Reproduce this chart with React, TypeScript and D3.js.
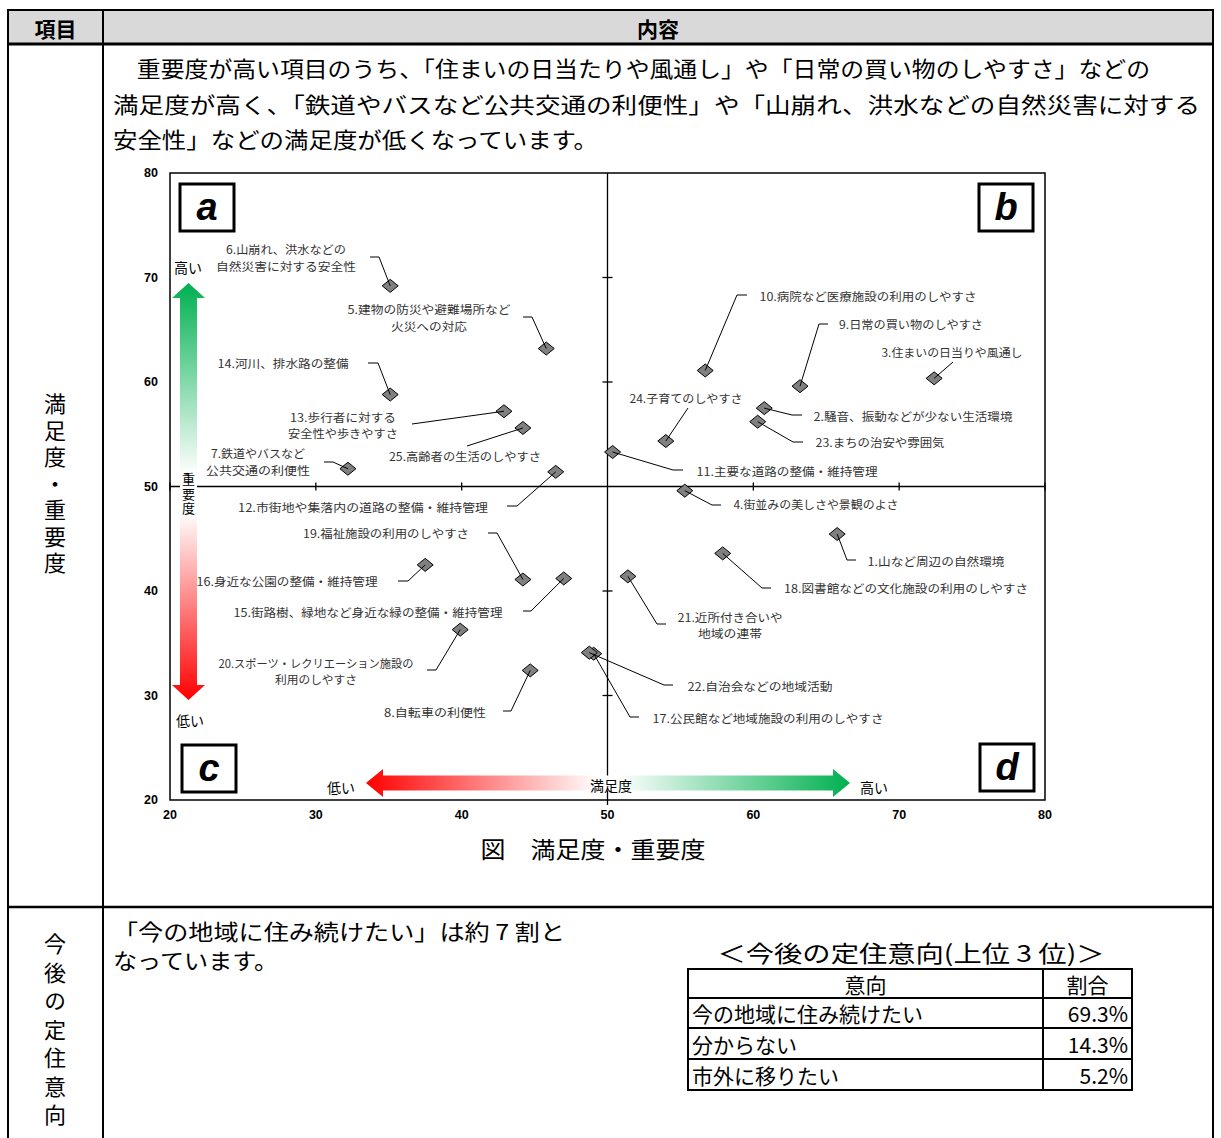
import React, { useEffect, useRef } from 'react';
import * as d3 from 'd3';

// 満足度(x)・重要度(y) の偏差値
const itemNo = [1, 2, 3, 4, 5, 6, 7, 8, 9, 10, 11, 12, 13, 14, 15, 16, 17, 18, 19, 20, 21, 22, 23, 24, 25];
const satisfaction = [65.75, 60.75, 72.4, 55.3, 45.8, 35.1, 32.2, 44.7, 63.2, 56.7, 50.35, 46.45, 42.9, 35.1, 47.0, 37.5, 49.05, 57.9, 44.2, 39.9, 51.4, 48.75, 60.3, 54.0, 44.2];
const importance = [45.45, 57.5, 60.35, 49.6, 63.2, 69.2, 51.7, 32.4, 59.6, 61.1, 53.3, 51.4, 57.2, 58.8, 41.2, 42.5, 34.0, 43.6, 41.1, 36.3, 41.4, 34.1, 56.2, 54.35, 55.6];
const itemLabels = [
  ['1.山など周辺の自然環境'],
  ['2.騒音、振動などが少ない生活環境'],
  ['3.住まいの日当りや風通し'],
  ['4.街並みの美しさや景観のよさ'],
  ['5.建物の防災や避難場所など', '火災への対応'],
  ['6.山崩れ、洪水などの', '自然災害に対する安全性'],
  ['7.鉄道やバスなど', '公共交通の利便性'],
  ['8.自転車の利便性'],
  ['9.日常の買い物のしやすさ'],
  ['10.病院など医療施設の利用のしやすさ'],
  ['11.主要な道路の整備・維持管理'],
  ['12.市街地や集落内の道路の整備・維持管理'],
  ['13.歩行者に対する', '安全性や歩きやすさ'],
  ['14.河川、排水路の整備'],
  ['15.街路樹、緑地など身近な緑の整備・維持管理'],
  ['16.身近な公園の整備・維持管理'],
  ['17.公民館など地域施設の利用のしやすさ'],
  ['18.図書館などの文化施設の利用のしやすさ'],
  ['19.福祉施設の利用のしやすさ'],
  ['20.スポーツ・レクリエーション施設の', '利用のしやすさ'],
  ['21.近所付き合いや', '地域の連帯'],
  ['22.自治会などの地域活動'],
  ['23.まちの治安や雰囲気'],
  ['24.子育てのしやすさ'],
  ['25.高齢者の生活のしやすさ'],
];
const xTicks = [20, 30, 40, 50, 60, 70, 80];
const yTicks = [20, 30, 40, 50, 60, 70, 80];
const quadrants = ['a', 'b', 'c', 'd'];

const intentLabels = ['今の地域に住み続けたい', '分からない', '市外に移りたい'];
const intentShares = [69.3, 14.3, 5.2];

// データラベルの配置 (ページ座標): 中心x, 各行の中心y, 行幅, 引出線の折れ点
const labelLayout = [
  { cx: 936, cy: [561], w: [137], lead: [[856, 560], [847, 560]] },
  { cx: 913, cy: [416], w: [199], lead: [[802, 415], [792, 415]] },
  { cx: 952, cy: [352], w: [141], lead: [[953, 362]] },
  { cx: 816, cy: [504], w: [165], lead: [[721, 505], [712, 505]] },
  { cx: 429, cy: [309, 326], w: [163, 76], lead: [[523, 317], [532, 317]] },
  { cx: 286, cy: [249, 266], w: [120, 140], lead: [[370, 257], [379, 257]] },
  { cx: 258, cy: [453, 470], w: [94, 104], lead: [[324, 462], [333, 462]] },
  { cx: 435, cy: [712], w: [102], lead: [[503, 711], [511, 711]] },
  { cx: 911, cy: [324], w: [144], lead: [[828, 324], [819, 324]] },
  { cx: 868, cy: [296], w: [217], lead: [[747, 295], [737, 295]] },
  { cx: 787, cy: [471], w: [181], lead: [[683, 470], [673, 470]] },
  { cx: 363, cy: [507], w: [250], lead: [[507, 506], [517, 506]] },
  { cx: 343, cy: [417, 433], w: [106, 110], lead: [[412, 424]] },
  { cx: 283, cy: [363], w: [131], lead: [[368, 363], [378, 363]] },
  { cx: 368, cy: [612], w: [269], lead: [[523, 611], [531, 611]] },
  { cx: 287, cy: [581], w: [181], lead: [[398, 581], [408, 581]] },
  { cx: 768, cy: [718], w: [231], lead: [[639, 717], [630, 717]] },
  { cx: 906, cy: [588], w: [244], lead: [[771, 588], [762, 588]] },
  { cx: 386, cy: [533], w: [166], lead: [[488, 533], [497, 533]] },
  { cx: 316, cy: [663, 679], w: [195, 82], lead: [[427, 670], [436, 670]] },
  { cx: 730, cy: [617, 633], w: [105, 64], lead: [[666, 624], [657, 624]] },
  { cx: 760, cy: [686], w: [145], lead: [[673, 685], [664, 685]] },
  { cx: 880, cy: [442], w: [129], lead: [[803, 442], [793, 442]] },
  { cx: 686, cy: [398], w: [113], lead: [[688, 408]] },
  { cx: 465, cy: [456], w: [152], lead: [[467, 446]] },
];

const JP = "'Noto Sans CJK JP', 'Noto Sans', sans-serif";
const NUM = "'Liberation Sans', Arial, sans-serif";
const GREEN = '#00b050';
const RED = '#ff0000';

const App = () => {
  const ref = useRef<SVGSVGElement>(null);

  useEffect(() => {
    drawPage();
  }, []);

  const drawPage = () => {
    const svg = d3.select(ref.current);
    svg.selectAll('*').remove();

    const left = 8, right = 1213, top = 10, colX = 103;
    const headBottom = 44, rowSplit = 907, bottom = 1140;

    // ---- 表の枠 ----
    svg.append('rect')
      .attr('x', left).attr('y', top)
      .attr('width', right - left).attr('height', headBottom - top)
      .attr('fill', '#d9d9d9');

    const hLine = (y: number, sw: number) => svg.append('line')
      .attr('x1', left - 1).attr('x2', right + 1).attr('y1', y).attr('y2', y)
      .attr('stroke', '#000').attr('stroke-width', sw);
    const vLine = (x: number, sw: number) => svg.append('line')
      .attr('x1', x).attr('x2', x).attr('y1', top).attr('y2', bottom)
      .attr('stroke', '#000').attr('stroke-width', sw);
    hLine(top, 2);
    hLine(headBottom, 3);
    hLine(rowSplit, 2.5);
    vLine(left, 2);
    vLine(colX, 2);
    vLine(right, 2);

    svg.append('text').attr('x', (left + colX) / 2).attr('y', 28)
      .attr('text-anchor', 'middle').attr('dominant-baseline', 'central')
      .style('font-family', JP).style('font-size', '21px').style('font-weight', 700).text('項目');
    svg.append('text').attr('x', (colX + right) / 2).attr('y', 28)
      .attr('text-anchor', 'middle').attr('dominant-baseline', 'central')
      .style('font-family', JP).style('font-size', '21px').style('font-weight', 700).text('内容');

    // 縦書きの文字列 (1 つの text 要素で縦組み)
    const vertical = (sel: any, str: string, x: number, yTop: number, size: number, spacing: number) =>
      sel.append('text').attr('x', x).attr('y', yTop)
        .style('writing-mode', 'vertical-rl').style('text-orientation', 'upright')
        .style('letter-spacing', `${spacing}px`)
        .style('font-family', JP).style('font-size', `${size}px`).text(str);
    vertical(svg, '満足度・重要度', 55, 393, 22, 4.5);
    vertical(svg, '今後の定住意向', 55, 933, 22, 6.5);

    // 本文
    const para = [
      { t: '　重要度が高い項目のうち、「住まいの日当たりや風通し」や「日常の買い物のしやすさ」などの', y: 67, w: 1037 },
      { t: '満足度が高く、「鉄道やバスなど公共交通の利便性」や「山崩れ、洪水などの自然災害に対する', y: 103, w: 1087 },
      { t: '安全性」などの満足度が低くなっています。', y: 138, w: 485 },
      { t: '「今の地域に住み続けたい」は約 7 割と', y: 930, w: 452 },
      { t: 'なっています。', y: 959, w: 165 },
    ];
    para.forEach(p => {
      svg.append('text').attr('x', 113).attr('y', p.y)
        .attr('dominant-baseline', 'central')
        .attr('textLength', p.w).attr('lengthAdjust', 'spacingAndGlyphs')
        .style('font-family', JP).style('font-size', '22px').text(p.t);
    });

    // ---- 散布図 ----
    const x = d3.scaleLinear().domain([20, 80]).range([170, 1045]);
    const y = d3.scaleLinear().domain([20, 80]).range([800, 173]);

    const defs = svg.append('defs');
    const gv = defs.append('linearGradient').attr('id', 'gradV')
      .attr('x1', 0).attr('y1', 0).attr('x2', 0).attr('y2', 1);
    gv.append('stop').attr('offset', '0%').attr('stop-color', GREEN);
    gv.append('stop').attr('offset', '46%').attr('stop-color', '#ffffff');
    gv.append('stop').attr('offset', '55%').attr('stop-color', '#ffffff');
    gv.append('stop').attr('offset', '100%').attr('stop-color', RED);
    const gh = defs.append('linearGradient').attr('id', 'gradH')
      .attr('x1', 0).attr('y1', 0).attr('x2', 1).attr('y2', 0);
    gh.append('stop').attr('offset', '0%').attr('stop-color', RED);
    gh.append('stop').attr('offset', '48%').attr('stop-color', '#ffffff');
    gh.append('stop').attr('offset', '52%').attr('stop-color', '#ffffff');
    gh.append('stop').attr('offset', '100%').attr('stop-color', GREEN);

    const plot = svg.append('g');

    plot.append('rect')
      .attr('x', x(20)).attr('y', y(80))
      .attr('width', x(80) - x(20)).attr('height', y(20) - y(80))
      .attr('fill', 'none').attr('stroke', '#000').attr('stroke-width', 1.5);

    // 50 で交差する軸
    plot.append('line')
      .attr('x1', x(20)).attr('x2', x(80)).attr('y1', y(50)).attr('y2', y(50))
      .attr('stroke', '#000').attr('stroke-width', 1.3);
    plot.append('line')
      .attr('x1', x(50)).attr('x2', x(50)).attr('y1', y(80)).attr('y2', y(20) + 5)
      .attr('stroke', '#000').attr('stroke-width', 1.3);

    plot.selectAll('.xtick').data(xTicks.filter(d => d !== 50)).enter().append('line')
      .attr('x1', d => x(d)).attr('x2', d => x(d))
      .attr('y1', y(50) - 4).attr('y2', y(50) + 4)
      .attr('stroke', '#000').attr('stroke-width', 1.3);
    plot.selectAll('.ytick').data(yTicks.filter(d => d !== 50 && d !== 20 && d !== 80)).enter().append('line')
      .attr('x1', x(50) - 5).attr('x2', x(50) + 5)
      .attr('y1', d => y(d)).attr('y2', d => y(d))
      .attr('stroke', '#000').attr('stroke-width', 1.3);

    plot.selectAll('.xlab').data(xTicks).enter().append('text')
      .attr('x', d => x(d)).attr('y', y(20) + 15)
      .attr('text-anchor', 'middle').attr('dominant-baseline', 'central')
      .style('font-family', NUM).style('font-size', '12.5px').style('font-weight', 700).text(d => d);
    plot.selectAll('.ylab').data(yTicks).enter().append('text')
      .attr('x', x(20) - 12).attr('y', d => y(d))
      .attr('text-anchor', 'end').attr('dominant-baseline', 'central')
      .style('font-family', NUM).style('font-size', '12.5px').style('font-weight', 700).text(d => d);

    // 象限の記号
    const qBox = [
      { x: 180, y: 184 }, { x: 979, y: 184 }, { x: 182, y: 745 }, { x: 980, y: 744 },
    ];
    quadrants.forEach((q, i) => {
      const b = qBox[i];
      plot.append('rect').attr('x', b.x).attr('y', b.y).attr('width', 54).attr('height', 47)
        .attr('fill', '#fff').attr('stroke', '#000').attr('stroke-width', 3);
      plot.append('text').attr('x', b.x + 27).attr('y', b.y + 36)
        .attr('text-anchor', 'middle')
        .style('font-family', NUM).style('font-size', '38px')
        .style('font-weight', 900).style('font-style', 'italic').text(q);
    });

    // 重要度の矢印 (縦)
    const ax = 188.5, aTop = 283, aBot = 700, sh = 8.5, hh = 16.5, hl = 15;
    plot.append('path')
      .attr('d', `M${ax},${aTop} L${ax + hh},${aTop + hl} L${ax + sh},${aTop + hl} L${ax + sh},${aBot - hl} L${ax + hh},${aBot - hl} L${ax},${aBot} L${ax - hh},${aBot - hl} L${ax - sh},${aBot - hl} L${ax - sh},${aTop + hl} L${ax - hh},${aTop + hl} Z`)
      .attr('fill', 'url(#gradV)');
    vertical(plot, '重要度', ax, 473, 13, 1.5);
    plot.append('text').attr('x', 188).attr('y', 267).attr('text-anchor', 'middle')
      .attr('dominant-baseline', 'central').style('font-family', JP).style('font-size', '14px').text('高い');
    plot.append('text').attr('x', 190).attr('y', 720).attr('text-anchor', 'middle')
      .attr('dominant-baseline', 'central').style('font-family', JP).style('font-size', '14px').text('低い');

    // 満足度の矢印 (横)
    const ay = 783, aL = 366, aR = 850, sv = 7.5, hv = 14, hw = 17;
    plot.append('path')
      .attr('d', `M${aL},${ay} L${aL + hw},${ay - hv} L${aL + hw},${ay - sv} L${aR - hw},${ay - sv} L${aR - hw},${ay - hv} L${aR},${ay} L${aR - hw},${ay + hv} L${aR - hw},${ay + sv} L${aL + hw},${ay + sv} L${aL + hw},${ay + hv} Z`)
      .attr('fill', 'url(#gradH)');
    plot.append('text').attr('x', 611).attr('y', 785).attr('text-anchor', 'middle')
      .attr('dominant-baseline', 'central').style('font-family', JP).style('font-size', '14px').text('満足度');
    plot.append('text').attr('x', 341).attr('y', 787).attr('text-anchor', 'middle')
      .attr('dominant-baseline', 'central').style('font-family', JP).style('font-size', '14px').text('低い');
    plot.append('text').attr('x', 874).attr('y', 787).attr('text-anchor', 'middle')
      .attr('dominant-baseline', 'central').style('font-family', JP).style('font-size', '14px').text('高い');

    // 点
    const pts = itemNo.map((n, i) => ({
      n, px: x(satisfaction[i]), py: y(importance[i]), lines: itemLabels[i], lay: labelLayout[i],
    }));

    plot.selectAll('.pt').data(pts).enter().append('path')
      .attr('d', d => `M${d.px - 8},${d.py} L${d.px},${d.py - 6.5} L${d.px + 8},${d.py} L${d.px},${d.py + 6.5} Z`)
      .attr('fill', '#808080').attr('stroke', '#000').attr('stroke-width', 1);

    // 引出線
    const lineGen = d3.line();
    plot.selectAll('.lead').data(pts).enter().append('path')
      .attr('d', d => lineGen([...d.lay.lead, [d.px, d.py]] as [number, number][]))
      .attr('fill', 'none').attr('stroke', '#000').attr('stroke-width', 1);

    // ラベル
    pts.forEach(d => {
      d.lines.forEach((t, j) => {
        plot.append('text').attr('x', d.lay.cx).attr('y', d.lay.cy[j])
          .attr('text-anchor', 'middle').attr('dominant-baseline', 'central')
          .attr('textLength', d.lay.w[j]).attr('lengthAdjust', 'spacingAndGlyphs')
          .style('font-family', JP).style('font-size', '11.5px').style('fill', '#333').text(t);
      });
    });

    svg.append('text').attr('x', 593).attr('y', 848)
      .attr('text-anchor', 'middle').attr('dominant-baseline', 'central')
      .attr('textLength', 225).attr('lengthAdjust', 'spacingAndGlyphs')
      .style('font-family', JP).style('font-size', '23px').text('図　満足度・重要度');

    // ---- 定住意向の表 ----
    svg.append('text').attr('x', 911).attr('y', 952)
      .attr('text-anchor', 'middle').attr('dominant-baseline', 'central')
      .attr('textLength', 387).attr('lengthAdjust', 'spacingAndGlyphs')
      .style('font-family', JP).style('font-size', '23px').text('＜今後の定住意向(上位 3 位)＞');

    const tL = 688, tM = 1043, tR = 1132;
    const rowY = [969, 998, 1028, 1059, 1090];
    const tbl = svg.append('g');
    rowY.forEach(ry => {
      tbl.append('line').attr('x1', tL - 1).attr('x2', tR + 1).attr('y1', ry).attr('y2', ry)
        .attr('stroke', '#000').attr('stroke-width', 2);
    });
    [tL, tM, tR].forEach(cx => {
      tbl.append('line').attr('x1', cx).attr('x2', cx).attr('y1', rowY[0]).attr('y2', rowY[4])
        .attr('stroke', '#000').attr('stroke-width', 2);
    });
    const cellText = (t: string, xx: number, yy: number, anchor: string) =>
      tbl.append('text').attr('x', xx).attr('y', yy)
        .attr('text-anchor', anchor).attr('dominant-baseline', 'central')
        .style('font-family', JP).style('font-size', '21px').text(t);
    cellText('意向', (tL + tM) / 2, (rowY[0] + rowY[1]) / 2, 'middle');
    cellText('割合', (tM + tR) / 2, (rowY[0] + rowY[1]) / 2, 'middle');
    intentLabels.forEach((t, i) => {
      const cy = (rowY[i + 1] + rowY[i + 2]) / 2;
      cellText(t, tL + 4, cy, 'start');
      cellText(`${intentShares[i].toFixed(1)}%`, tR - 4, cy, 'end');
    });
  };

  return (
    <svg ref={ref} width={1221} height={1138}
      style={{ position: 'absolute', left: 0, top: 0, background: '#fff' }} />
  );
};

export default App;
